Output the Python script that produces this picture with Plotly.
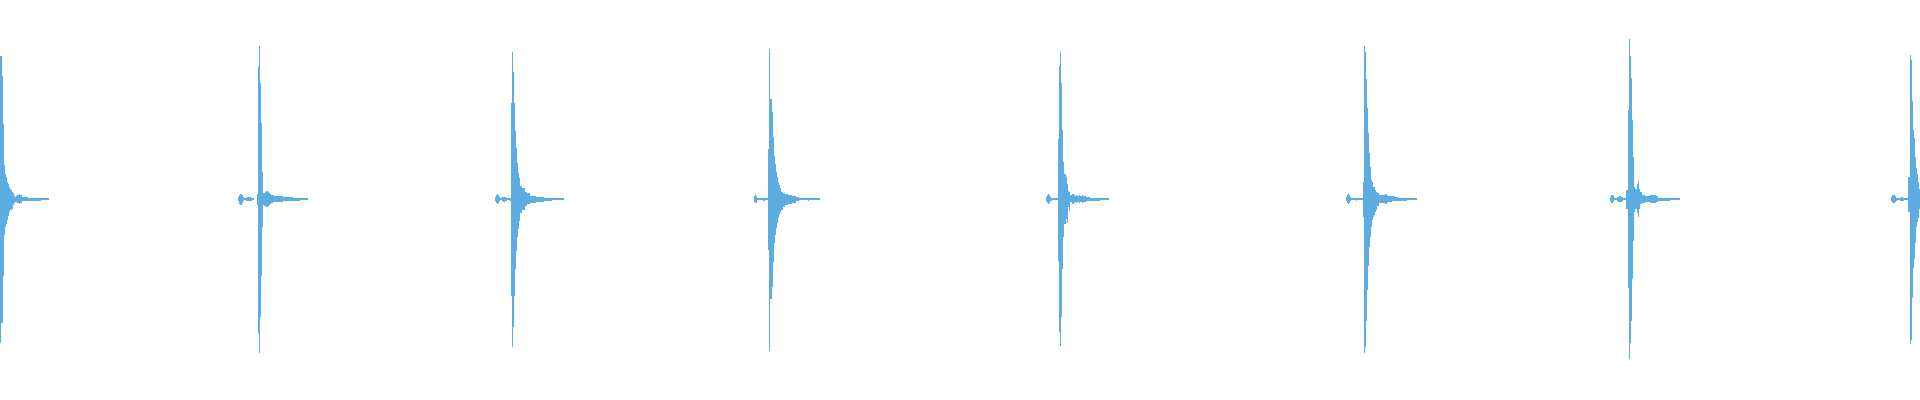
import plotly.graph_objects as go

# Each beat: first pixel column, then upper and lower envelope amplitudes per column
beat_starts = [0, 238, 495, 754, 1046, 1346, 1610, 1891]

beat1_up = [143, 143, 123, 75, 34, 25, 22, 17, 15, 12, 10, 9, 7, 6, 3, 2, 3, 4, 4, 5, 4, 4, 2, 2, 2, 2, 2, 2,
            1.5, 1.5, 1.5, 1.5, 1.5, 1.5, 1.5, 1.5, 1.5, 1.5, 1.5, 1.5, 1.5, 1, 1, 1, 1, 1, 1, 1, 1]
beat1_dn = [144, 124, 124, 77, 36, 28, 25, 21, 17, 13, 11, 11, 10, 6, 4, 3, 3, 4, 4, 5, 4, 4, 2, 2, 2, 2, 2, 2,
            1.5, 1.5, 1.5, 1.5, 1.5, 1.5, 1.5, 1.5, 1.5, 1.5, 1.5, 1.5, 1.5, 1, 1, 1, 1, 1, 1, 1, 1]

beat2_up = [2, 4, 5, 5, 4, 2, 1, 1, 1.5, 2, 2, 2, 2, 1.5, 1, 1, 0, 0, 0,
            5, 132, 153, 116, 76, 27, 6, 6, 7, 8, 8, 7, 6, 5, 4, 4, 4, 3,
            3, 3, 3, 3, 3, 3, 3, 3, 2, 2, 2, 2, 2, 2, 2, 2, 2, 2,
            1.5, 1.5, 1.5, 1.5, 1.5, 1.5, 1.5, 1, 1, 1, 1, 1, 1, 1, 1]
beat2_dn = [2, 5, 6, 6, 4, 2, 1, 1, 1.5, 2, 2, 2, 2, 1.5, 1, 1, 0, 0, 0,
            6, 134, 154, 118, 77, 28, 6, 7, 7, 8, 8, 7, 6, 5, 4, 4, 3, 3,
            3, 3, 3, 3, 3, 3, 3, 3, 2, 2, 2, 2, 2, 2, 2, 2, 2, 2,
            1.5, 1.5, 1.5, 1.5, 1.5, 1.5, 1.5, 1, 1, 1, 1, 1, 1, 1, 1]

beat3_up = [2, 4, 5, 4, 2, 1, 1, 2, 2.5, 2.5, 2, 1.5, 1, 1, 1, 1.5,
            96, 147, 127, 96, 68, 51, 36, 26, 21, 13, 13, 11, 11, 11, 7, 7, 6, 6, 6,
            3, 3, 3, 3, 3, 3, 2, 2, 2, 2, 2, 2, 2, 2,
            1.5, 1.5, 1.5, 1.5, 1.5, 1.5, 1.5, 1.5, 1, 1, 1, 1, 1, 1, 1, 1, 1, 1, 1, 1]
beat3_dn = [2, 4, 5, 4, 2, 1, 1, 2, 2.5, 2.5, 2, 1.5, 1, 1, 1, 1.5,
            97, 148, 128, 97, 70, 52, 38, 30, 22, 14, 14, 11, 11, 11, 7, 7, 5, 5, 5,
            4, 4, 4, 4, 4, 4, 3, 3, 3, 3, 3, 3, 3, 3,
            2, 2, 2, 2, 2, 2, 2, 2, 1, 1, 1, 1, 1, 1, 1, 1, 1, 1, 1, 1]

beat4_up = [3, 4, 3, 1, 1, 1, 1, 1, 1, 1.5, 1.5, 1, 1, 1,
            50, 150, 100, 100, 87, 62, 43, 35, 27, 22, 17, 14, 11, 7, 7, 6, 6, 5, 5, 5,
            4, 4, 4, 4, 3, 3, 3, 3, 2, 2, 2,
            1, 1, 1, 1, 1, 1, 1, 1, 1, 1.5, 1, 1, 1, 1, 1, 1, 1, 1, 1, 1, 1]
beat4_dn = [3, 4, 4, 1, 1, 1, 1, 1, 1, 1.5, 1.5, 1, 1, 1,
            51, 152, 100, 100, 88, 63, 44, 36, 29, 24, 19, 15, 13, 11, 11, 8, 8, 6, 6, 6,
            5, 5, 5, 5, 4, 4, 4, 4, 2, 2, 2,
            1, 1, 1, 1, 1, 1, 1, 1, 1, 1.5, 1, 1, 1, 1, 1, 1, 1, 1, 1, 1, 1]

beat5_up = [2, 4, 5, 4, 2, 1.5, 1, 1, 1, 1, 1, 1,
            60, 133, 147, 116, 69, 37, 25, 25, 22, 15, 8, 7, 4, 4, 5, 5, 4,
            3, 4, 3, 3, 4, 3, 3, 4, 3, 3, 3, 2, 2, 2, 2,
            1.5, 1.5, 1.5, 1.5, 1.5, 1.5, 1.5, 1.5, 1.5, 1.5, 1, 1, 1, 1, 1, 1, 1, 1, 1]
beat5_dn = [2, 4, 5, 4, 2, 1.5, 1, 1, 1, 1, 1, 1,
            62, 133, 147, 118, 70, 38, 25, 25, 20, 24, 8, 12, 3, 3, 5, 5, 4,
            3, 4, 3, 3, 4, 3, 3, 4, 3, 3, 3, 2, 2, 2, 2,
            1.5, 1.5, 1.5, 1.5, 1.5, 1.5, 1.5, 1.5, 1.5, 1.5, 1, 1, 1, 1, 1, 1, 1, 1, 1]

beat6_up = [2, 4, 5, 4, 2, 1, 1, 1, 1, 1, 1.5, 1, 1, 1, 1, 1, 1,
            17, 153, 147, 120, 91, 66, 46, 32, 19, 17, 12, 12, 9, 7, 6, 6,
            4, 4, 4, 4, 4, 4, 5, 5, 3, 3, 3, 3, 3, 3, 3, 3, 2, 2, 2,
            1.5, 1.5, 1.5, 1.5, 1.5, 1.5, 1.5, 1.5, 1.5, 1, 1, 1, 1, 1, 1, 1, 1, 1, 1]
beat6_dn = [2, 4, 5, 4, 2, 1, 1, 1, 1, 1, 1.5, 1, 1, 1, 1, 1, 1,
            18, 154, 148, 122, 91, 67, 48, 38, 28, 21, 18, 16, 13, 11, 7, 7,
            4, 4, 4, 4, 4, 4, 5, 5, 3, 3, 3, 3, 3, 2, 2, 2, 1.5, 1.5, 1.5,
            1.5, 1.5, 1.5, 1.5, 1.5, 1.5, 1.5, 1.5, 1.5, 1, 1, 1, 1, 1, 1, 1, 1, 1, 1]

beat7_up = [2, 4, 4, 3, 1, 1, 1, 2, 2.5, 3, 3, 2.5, 2, 1, 1, 1,
            9, 9, 89, 160, 143, 121, 79, 42, 12, 10, 10, 15, 18, 10, 7, 7,
            4, 4, 4, 3, 3, 3, 3, 3, 4, 4, 4, 4, 4, 4, 3, 3,
            1.5, 1.5, 1.5, 1.5, 1.5, 1.5, 1.5, 1.5, 1.5, 1.5, 1.5, 1.5,
            1, 1, 1, 1, 1, 1, 1, 1, 1, 1]
beat7_dn = [2, 4, 4, 3, 1, 1, 1, 2, 2.5, 3, 3, 2.5, 2, 1, 1, 1,
            10, 10, 89, 160, 144, 122, 80, 42, 13, 10, 10, 14, 18, 10, 5, 5,
            4, 4, 4, 3, 3, 3, 3, 3, 4, 4, 4, 4, 4, 4, 3, 3,
            1.5, 1.5, 1.5, 1.5, 1.5, 1.5, 1.5, 1.5, 1.5, 1.5, 1.5, 1.5,
            1, 1, 1, 1, 1, 1, 1, 1, 1, 1]

beat8_up = [2, 4, 4, 4, 3, 1.5, 1, 1, 1, 1.5, 2, 2, 1.5, 1, 1, 1, 1,
            22, 22, 144, 139, 98, 69, 61, 42, 31, 25, 17, 10]
beat8_dn = [2, 4, 4, 4, 3, 1.5, 1, 1, 1, 1.5, 2, 2, 1.5, 1, 1, 1, 1,
            13, 13, 145, 141, 99, 69, 60, 44, 28, 23, 19, 10]

beats_up = [beat1_up, beat2_up, beat3_up, beat4_up, beat5_up, beat6_up, beat7_up, beat8_up]
beats_dn = [beat1_dn, beat2_dn, beat3_dn, beat4_dn, beat5_dn, beat6_dn, beat7_dn, beat8_dn]

xs, bases, heights = [], [], []
for start, ups, dns in zip(beat_starts, beats_up, beats_dn):
    for i, (u, d) in enumerate(zip(ups, dns)):
        if u == 0 and d == 0:
            continue
        xs.append(start + i + 0.5)
        bases.append(-d)
        heights.append(u + d)

WAVE_COLOR = "#5DADE2"

fig = go.Figure(
    go.Bar(
        x=xs,
        y=heights,
        base=bases,
        width=1,
        marker=dict(color=WAVE_COLOR, line=dict(width=0)),
        hoverinfo="skip",
    )
)

fig.update_layout(
    width=1920,
    height=400,
    margin=dict(l=0, r=0, t=0, b=0),
    paper_bgcolor="white",
    plot_bgcolor="white",
    bargap=0,
    showlegend=False,
    xaxis=dict(range=[0, 1920], visible=False, fixedrange=True),
    yaxis=dict(range=[-200.7, 199.3], visible=False, fixedrange=True),
)

fig.write_html(
    "out.html",
    config={"displayModeBar": False, "staticPlot": True},
    post_script="document.body.style.margin='0';document.body.style.overflow='hidden';",
)
